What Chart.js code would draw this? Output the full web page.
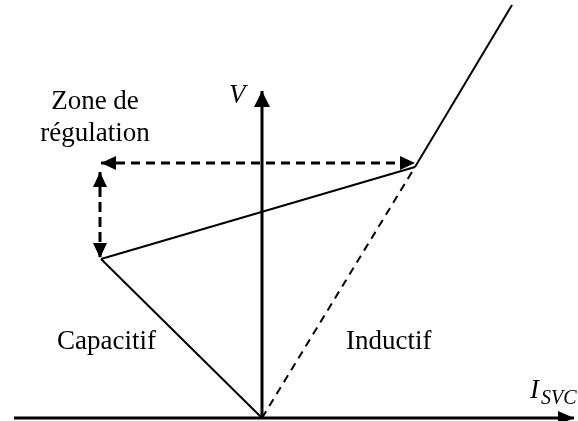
<!DOCTYPE html>
<html>
<head>
<meta charset="utf-8">
<script src="https://cdn.jsdelivr.net/npm/chart.js@4"></script>
<style>
  body { margin: 0; background: #fff; }
  canvas { display: block; }
</style>
</head>
<body>
<canvas id="svc-chart" width="578" height="421"></canvas>
<script>
// V-I characteristic of the SVC, in (I, V) units with the origin at the axes crossing
const axisI = [[-248, 0], [312, 0]];
const axisV = [[0, 0], [0, 327]];
const capacitif = [[0, 0], [-161, 159]];
const regulation = [[-161, 159], [153, 251]];
const saturation = [[153, 251], [250, 413]];
const inductifLimit = [[0, 0], [153, 251]];
const zoneWidth = [[-161, 255], [153, 255]];
const zoneHeight = [[-162, 246], [-162, 160]];

const labelZone = ['Zone de', 'régulation'];
const labelCap = 'Capacitif';
const labelInd = 'Inductif';

const toPoints = arr => arr.map(p => ({ x: p[0], y: p[1] }));

function line(data, width, dash, arrow) {
    return {
        data: toPoints(data),
        showLine: true,
        borderColor: '#000',
        borderWidth: width,
        borderDash: dash || [],
        pointRadius: 0,
        arrow: arrow
    };
}

function drawHead(ctx, from, to, len, half) {
    const a = Math.atan2(to.y - from.y, to.x - from.x);
    ctx.save();
    ctx.translate(to.x, to.y);
    ctx.rotate(a);
    ctx.beginPath();
    ctx.moveTo(0, 0);
    ctx.lineTo(-len, -half);
    ctx.lineTo(-len, half);
    ctx.closePath();
    ctx.fillStyle = '#000';
    ctx.fill();
    ctx.restore();
}

const arrowHeads = {
    id: 'arrowHeads',
    afterDatasetsDraw(chart) {
        const ctx = chart.ctx;
        chart.data.datasets.forEach((ds, i) => {
            if (!ds.arrow) return;
            const pts = chart.getDatasetMeta(i).data;
            const first = pts[0], last = pts[pts.length - 1];
            const [len, half] = ds.arrow.size;
            if (ds.arrow.end) drawHead(ctx, first, last, len, half);
            if (ds.arrow.start) drawHead(ctx, last, first, len, half);
        });
    }
};

const labels = {
    id: 'labels',
    afterDraw(chart) {
        const ctx = chart.ctx;
        const sx = chart.scales.x;
        ctx.save();
        ctx.fillStyle = '#000';
        ctx.textBaseline = 'alphabetic';
        ctx.font = '27px "Liberation Serif"';
        ctx.textAlign = 'center';
        ctx.fillText(labelZone[0], sx.getPixelForValue(-167), 109);
        ctx.fillText(labelZone[1], sx.getPixelForValue(-167), 141);
        ctx.textAlign = 'left';
        ctx.fillText(labelCap, 57, 349);
        ctx.fillText(labelInd, 346, 349);

        // axis names
        ctx.font = 'italic 27px "Liberation Serif"';
        ctx.fillText('V', 229, 103);
        ctx.fillText('I', 530, 398);
        ctx.font = 'italic 20px "Liberation Serif"';
        ctx.fillText('SVC', 541, 404);
        ctx.restore();
    }
};

new Chart(document.getElementById('svc-chart'), {
    type: 'scatter',
    data: {
        datasets: [
            line(axisI, 3, null, { end: true, size: [16, 7] }),
            line(axisV, 3, null, { end: true, size: [16, 8] }),
            line(capacitif, 2),
            line(regulation, 2),
            line(saturation, 2),
            line(inductifLimit, 2, [8, 6]),
            line(zoneWidth, 3, [9, 6], { start: true, end: true, size: [15, 7] }),
            line(zoneHeight, 3, [10, 5], { start: true, end: true, size: [15, 7] })
        ]
    },
    options: {
        animation: false,
        responsive: false,
        maintainAspectRatio: false,
        layout: { padding: 0 },
        scales: {
            x: { type: 'linear', display: false, min: -262, max: 316 },
            y: { type: 'linear', display: false, min: -3, max: 418 }
        },
        plugins: { legend: { display: false }, tooltip: { enabled: false } }
    },
    plugins: [arrowHeads, labels]
});
</script>
</body>
</html>
